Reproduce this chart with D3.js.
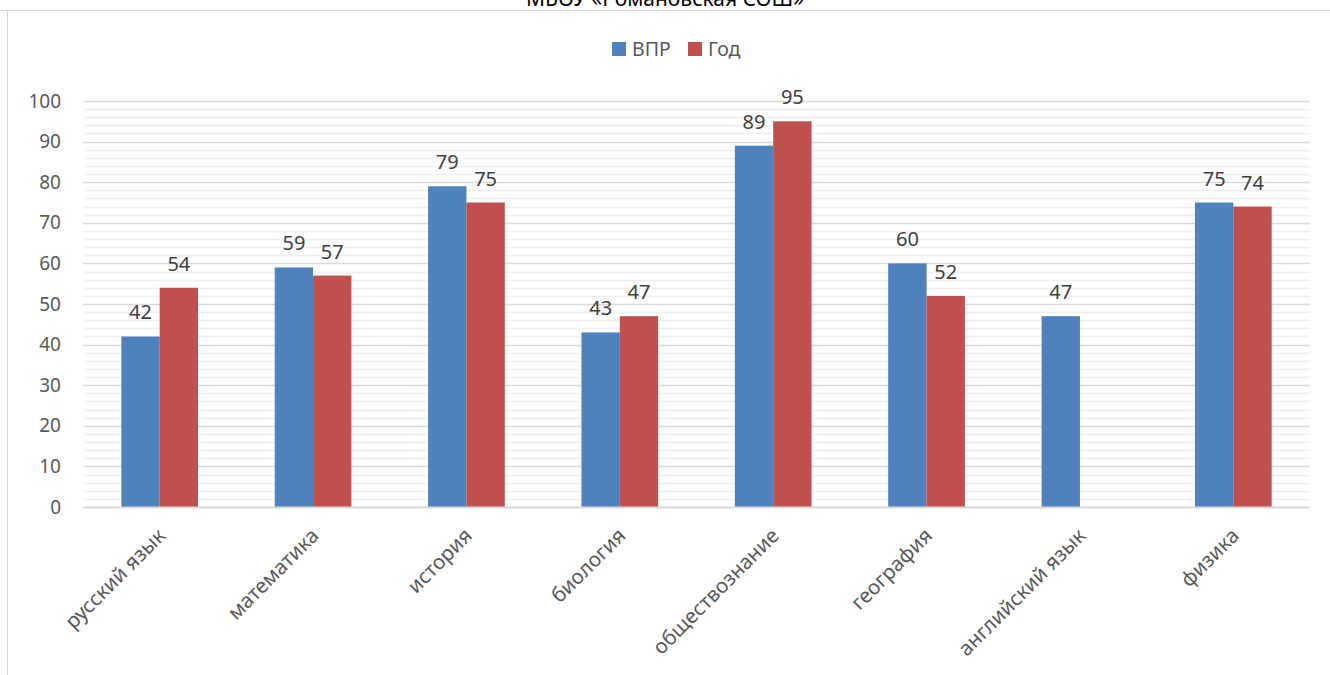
<!DOCTYPE html>
<html><head><meta charset="utf-8">
<script src="https://cdn.jsdelivr.net/npm/d3@7"></script>
<style>body{margin:0;background:#fff}svg{display:block}</style>
</head><body>
<svg id="c" width="1330" height="675"></svg>
<script>
const categories = ["русский язык","математика","история","биология","обществознание","география","английский язык","физика"];
const seriesNames = ["ВПР","Год"];
const vprValues = [42,59,79,43,89,60,47,75];
const godValues = [54,57,75,47,95,52,null,74];
const yTicks = [0,10,20,30,40,50,60,70,80,90,100];
const colors = ["#4f81bd","#c0504d"];
const FONT = "'Noto Sans', 'Open Sans', sans-serif";

const svg = d3.select("#c");
const W=1330,H=675;
const m={l:83,r:20,t:101,b:168};
const x0 = d3.scaleBand().domain(categories).range([m.l,W-m.r]).paddingInner(0.5).paddingOuter(0.25);
const xb = d3.scaleBand().domain(seriesNames).range([0,x0.bandwidth()]);
const y = d3.scaleLinear().domain([0,100]).range([H-m.b,m.t]);

// frame
svg.append("line").attr("x1",0).attr("x2",W).attr("y1",10.5).attr("y2",10.5).attr("stroke","#d9d9d9");
svg.append("line").attr("x1",7.5).attr("x2",7.5).attr("y1",10).attr("y2",H).attr("stroke","#d9d9d9");

// title (cut off at top, as in the reference)
svg.append("text").attr("x",665).attr("y",6).attr("text-anchor","middle")
  .attr("font-family",FONT).attr("font-size",21).attr("fill","#000").text("МБОУ «Романовская СОШ»");

// minor grid
const minor = d3.range(0,101,2).filter(v=>v%10!==0);
svg.append("g").selectAll("line").data(minor).join("line")
  .attr("x1",m.l).attr("x2",W-m.r).attr("y1",d=>Math.round(y(d))+0.5).attr("y2",d=>Math.round(y(d))+0.5)
  .attr("stroke","#f0f0f0").attr("stroke-width",1.5);
// major grid
svg.append("g").selectAll("line").data(yTicks.filter(v=>v>0)).join("line")
  .attr("x1",m.l).attr("x2",W-m.r).attr("y1",d=>Math.round(y(d))+0.5).attr("y2",d=>Math.round(y(d))+0.5)
  .attr("stroke","#d9d9d9").attr("stroke-width",1.5);

// y axis labels
const yAxis = d3.axisLeft(y).tickValues(yTicks).tickSize(0).tickPadding(22);
const ga = svg.append("g").attr("transform",`translate(${m.l},0)`).call(yAxis);
ga.select(".domain").remove();
ga.selectAll("text").attr("font-family",FONT).attr("font-size",19).attr("fill","#595959");

// bars
const data = categories.map((c,i)=>({c, vals:[vprValues[i],godValues[i]]}));
const grp = svg.append("g").selectAll("g").data(data).join("g")
  .attr("transform",d=>`translate(${x0(d.c)},0)`);
grp.selectAll("rect").data(d=>d.vals.map((v,j)=>({v,s:seriesNames[j],j})).filter(d=>d.v!=null)).join("rect")
  .attr("x",d=>xb(d.s)).attr("width",xb.bandwidth())
  .attr("y",d=>y(d.v)).attr("height",d=>y(0)-y(d.v)).attr("fill",d=>colors[d.j]);
grp.selectAll("text").data(d=>d.vals.map((v,j)=>({v,s:seriesNames[j],j})).filter(d=>d.v!=null)).join("text")
  .attr("x",d=>xb(d.s)+xb.bandwidth()/2).attr("y",d=>y(d.v)-17)
  .attr("text-anchor","middle").attr("font-family",FONT).attr("font-size",20).attr("fill","#404040")
  .text(d=>d.v);

// x axis baseline
svg.append("line").attr("x1",m.l).attr("x2",W-m.r).attr("y1",y(0)+0.5).attr("y2",y(0)+0.5)
  .attr("stroke","#d9d9d9").attr("stroke-width",2);

// category labels
const xAxis = d3.axisBottom(x0).tickSize(0).tickPadding(0);
const gx = svg.append("g").attr("transform",`translate(0,${y(0)})`).call(xAxis);
gx.select(".domain").remove();
gx.selectAll("text").attr("font-family",FONT).attr("font-size",20.5).attr("fill","#595959")
  .attr("text-anchor","end").attr("dy",0)
  .attr("transform","translate(7,30) rotate(-45)");

// legend
const lg = svg.append("g").attr("transform","translate(612,42)");
const items = [{n:"ВПР",c:colors[0],x:0},{n:"Год",c:colors[1],x:76}];
const li = lg.selectAll("g").data(items).join("g").attr("transform",d=>`translate(${d.x},0)`);
li.append("rect").attr("width",14).attr("height",14).attr("fill",d=>d.c);
li.append("text").attr("x",20).attr("y",14).attr("font-family",FONT).attr("font-size",19.5).attr("fill","#595959").text(d=>d.n);
</script>
</body></html>
